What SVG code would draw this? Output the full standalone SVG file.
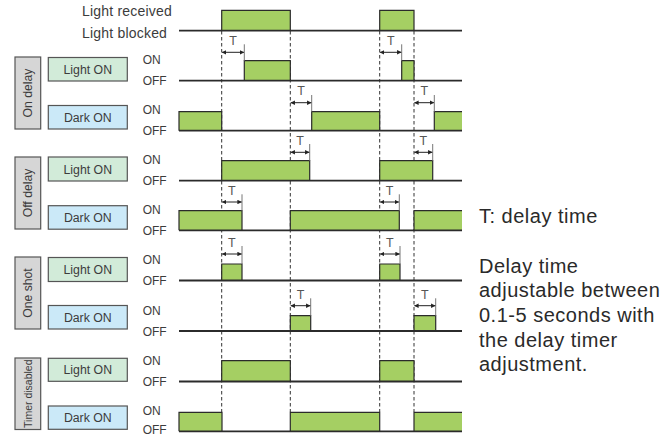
<svg xmlns="http://www.w3.org/2000/svg" width="672" height="437" viewBox="0 0 672 437">
<defs>
<marker id="ah" viewBox="0 0 6 6" refX="5.5" refY="3" markerWidth="4.5" markerHeight="4.5" orient="auto-start-reverse" markerUnits="userSpaceOnUse">
<path d="M0,0 L6,3 L0,6 Z" fill="#222"/>
</marker>
</defs>
<style>
text{font-family:"Liberation Sans",Arial,Helvetica,sans-serif;fill:#3c3c3c}
.hd{font-size:14px;letter-spacing:0.2px}
.onoff{font-size:12px}
.box{font-size:12.3px;text-anchor:middle}
.grp{font-size:12.2px;text-anchor:middle}
.t{font-size:12.5px;text-anchor:middle;fill:#555}
.note{font-size:20px;letter-spacing:0.5px;fill:#2a2a2a}
.gbox{fill:#d6d6d6;stroke:#555;stroke-width:1.2}
.lbox{fill:#d2ebd9;stroke:#555;stroke-width:1.2}
.dbox{fill:#cbe9f8;stroke:#555;stroke-width:1.2}
.base{stroke:#2b2b2b;stroke-width:1.8;fill:none}
.pulse{fill:#a5cf63;stroke:#2b2b2b;stroke-width:1.2}
.fillonly{fill:#a5cf63;stroke:none}
.edge{fill:none;stroke:#2b2b2b;stroke-width:1.2}
.dash{stroke:#333;stroke-width:1;stroke-dasharray:3.5 2.5;fill:none}
.tick{stroke:#777;stroke-width:1;fill:none}
.arr{stroke:#222;stroke-width:1;fill:none;marker-start:url(#ah);marker-end:url(#ah)}
</style>

<g id="connectors">
<line class="dash" x1="221.7" y1="31" x2="221.7" y2="412"/>
<line class="dash" x1="290.3" y1="31" x2="290.3" y2="412"/>
<line class="dash" x1="379.7" y1="31" x2="379.7" y2="412"/>
<line class="dash" x1="414" y1="31" x2="414" y2="412"/>
</g>

<g id="input-signal">
<text class="hd" x="82" y="15.7">Light received</text>
<text class="hd" x="82" y="38.3">Light blocked</text>
<path class="pulse" d="M221.7 30.7 V10.3 H290.3 V30.7"/>
<path class="pulse" d="M379.7 30.7 V10.3 H414 V30.7"/>
<line class="base" x1="179" y1="30.7" x2="462" y2="30.7"/>
</g>

<g id="group-on-delay">
<rect class="gbox" x="15" y="57" width="25.7" height="72"/>
<text class="grp" transform="translate(32.3,93) rotate(-90)">On delay</text>
</g>
<g id="on-delay-light-on">
<rect class="lbox" x="48.3" y="57.5" width="79" height="23.5"/>
<text class="box" x="87.8" y="73.8">Light ON</text>
<text class="onoff" x="142.7" y="64.2">ON</text>
<text class="onoff" x="142.7" y="85.2">OFF</text>
<path class="pulse" d="M244.3 80.7 V60.7 H290.3 V80.7"/>
<path class="pulse" d="M401.7 80.7 V60.7 H414 V80.7"/>
<line class="base" x1="179" y1="80.7" x2="462" y2="80.7"/>
</g>
<g id="on-delay-dark-on">
<rect class="dbox" x="48.3" y="105.5" width="79" height="23.5"/>
<text class="box" x="87.8" y="121.8">Dark ON</text>
<text class="onoff" x="142.7" y="114.2">ON</text>
<text class="onoff" x="142.7" y="135.2">OFF</text>
<path class="pulse" d="M179 130.7 V111.7 H221.7 V130.7"/>
<path class="pulse" d="M311.7 130.7 V111.7 H379.7 V130.7"/>
<rect class="fillonly" x="434.3" y="111.7" width="27.7" height="19"/>
<path class="edge" d="M434.3 130.7 V111.7 H462"/>
<line class="base" x1="179" y1="130.7" x2="462" y2="130.7"/>
</g>

<g id="group-off-delay">
<rect class="gbox" x="15" y="157" width="25.7" height="72"/>
<text class="grp" transform="translate(32.3,193) rotate(-90)">Off delay</text>
</g>
<g id="off-delay-light-on">
<rect class="lbox" x="48.3" y="157" width="79" height="24"/>
<text class="box" x="87.8" y="173.5">Light ON</text>
<text class="onoff" x="142.7" y="164.2">ON</text>
<text class="onoff" x="142.7" y="185.2">OFF</text>
<path class="pulse" d="M221.7 180.7 V160.7 H309.7 V180.7"/>
<path class="pulse" d="M379.7 180.7 V160.7 H432.7 V180.7"/>
<line class="base" x1="179" y1="180.7" x2="462" y2="180.7"/>
</g>
<g id="off-delay-dark-on">
<rect class="dbox" x="48.3" y="205.7" width="79" height="23.5"/>
<text class="box" x="87.8" y="222">Dark ON</text>
<text class="onoff" x="142.7" y="213.8">ON</text>
<text class="onoff" x="142.7" y="234.8">OFF</text>
<path class="pulse" d="M179 230.3 V210.7 H242 V230.3"/>
<path class="pulse" d="M290.3 230.3 V210.7 H399.3 V230.3"/>
<rect class="fillonly" x="414" y="210.7" width="48" height="19.6"/>
<path class="edge" d="M414 230.3 V210.7 H462"/>
<line class="base" x1="179" y1="230.3" x2="462" y2="230.3"/>
</g>

<g id="group-one-shot">
<rect class="gbox" x="15" y="257" width="25.7" height="72"/>
<text class="grp" transform="translate(32.3,293) rotate(-90)">One shot</text>
</g>
<g id="one-shot-light-on">
<rect class="lbox" x="48.3" y="257.5" width="79" height="24"/>
<text class="box" x="87.8" y="274">Light ON</text>
<text class="onoff" x="142.7" y="264">ON</text>
<text class="onoff" x="142.7" y="285">OFF</text>
<path class="pulse" d="M221.7 280.5 V264 H242 V280.5"/>
<path class="pulse" d="M379.7 280.5 V264 H400 V280.5"/>
<line class="base" x1="179" y1="280.5" x2="462" y2="280.5"/>
</g>
<g id="one-shot-dark-on">
<rect class="dbox" x="48.3" y="305.5" width="79" height="23.5"/>
<text class="box" x="87.8" y="321.8">Dark ON</text>
<text class="onoff" x="142.7" y="314.5">ON</text>
<text class="onoff" x="142.7" y="335.5">OFF</text>
<path class="pulse" d="M290.3 331 V315.7 H310.7 V331"/>
<path class="pulse" d="M414 331 V315.7 H435.7 V331"/>
<line class="base" x1="179" y1="331" x2="462" y2="331"/>
</g>

<g id="group-timer-disabled">
<rect class="gbox" x="15" y="358" width="25.7" height="71.5"/>
<text class="grp" style="font-size:10.5px" transform="translate(31.6,393.7) rotate(-90)">Timer disabled</text>
</g>
<g id="timer-disabled-light-on">
<rect class="lbox" x="48.3" y="358.3" width="79" height="23"/>
<text class="box" x="87.8" y="374.2">Light ON</text>
<text class="onoff" x="142.7" y="365">ON</text>
<text class="onoff" x="142.7" y="386">OFF</text>
<path class="pulse" d="M221.7 381.5 V360.7 H290.3 V381.5"/>
<path class="pulse" d="M379.7 381.5 V360.7 H414 V381.5"/>
<line class="base" x1="179" y1="381.5" x2="462" y2="381.5"/>
</g>
<g id="timer-disabled-dark-on">
<rect class="dbox" x="48.3" y="406" width="79" height="23.3"/>
<text class="box" x="87.8" y="422">Dark ON</text>
<text class="onoff" x="142.7" y="414.8">ON</text>
<text class="onoff" x="142.7" y="433.5">OFF</text>
<path class="pulse" d="M179 431.3 V412.3 H222 V431.3"/>
<path class="pulse" d="M290.3 431.3 V412.3 H379.7 V431.3"/>
<rect class="fillonly" x="414" y="412.3" width="48" height="19"/>
<path class="edge" d="M414 431.3 V412.3 H462"/>
<line class="base" x1="179" y1="431.3" x2="462" y2="431.3"/>
</g>

<g id="delay-markers">
<line class="tick" x1="244.3" y1="44.3" x2="244.3" y2="60.7"/>
<line class="arr" x1="222.2" y1="52.3" x2="243.8" y2="52.3"/>
<text class="t" x="233" y="44.7">T</text>
<line class="tick" x1="401.7" y1="44.3" x2="401.7" y2="60.7"/>
<line class="arr" x1="380.2" y1="52.3" x2="401.2" y2="52.3"/>
<text class="t" x="390.7" y="44.7">T</text>
<line class="tick" x1="311.7" y1="95" x2="311.7" y2="111.7"/>
<line class="arr" x1="290.8" y1="102.7" x2="311.2" y2="102.7"/>
<text class="t" x="301" y="95.3">T</text>
<line class="tick" x1="434.3" y1="95" x2="434.3" y2="111.7"/>
<line class="arr" x1="414.5" y1="102.7" x2="433.8" y2="102.7"/>
<text class="t" x="424.2" y="95.3">T</text>
<line class="tick" x1="309.7" y1="144" x2="309.7" y2="160.7"/>
<line class="arr" x1="290.8" y1="152.3" x2="309.2" y2="152.3"/>
<text class="t" x="300" y="144.7">T</text>
<line class="tick" x1="432.7" y1="144" x2="432.7" y2="160.7"/>
<line class="arr" x1="414.5" y1="152.3" x2="432.2" y2="152.3"/>
<text class="t" x="423.3" y="144.7">T</text>
<line class="tick" x1="242" y1="194.3" x2="242" y2="210.7"/>
<line class="arr" x1="222.2" y1="202" x2="241.5" y2="202"/>
<text class="t" x="231.8" y="194.7">T</text>
<line class="tick" x1="399.3" y1="194.3" x2="399.3" y2="210.7"/>
<line class="arr" x1="380.2" y1="202" x2="398.8" y2="202"/>
<text class="t" x="389.5" y="194.7">T</text>
<line class="tick" x1="242" y1="246" x2="242" y2="264"/>
<line class="arr" x1="222.2" y1="254" x2="241.5" y2="254"/>
<text class="t" x="231.8" y="246.5">T</text>
<line class="tick" x1="400" y1="246" x2="400" y2="264"/>
<line class="arr" x1="380.2" y1="254" x2="399.5" y2="254"/>
<text class="t" x="389.8" y="246.5">T</text>
<line class="tick" x1="310.7" y1="298.3" x2="310.7" y2="315.7"/>
<line class="arr" x1="290.8" y1="305.7" x2="310.2" y2="305.7"/>
<text class="t" x="300.5" y="298.5">T</text>
<line class="tick" x1="435.7" y1="298.3" x2="435.7" y2="315.7"/>
<line class="arr" x1="414.5" y1="305.7" x2="435.2" y2="305.7"/>
<text class="t" x="424.8" y="298.5">T</text>
</g>

<g id="notes">
<text class="note" x="479" y="223.3">T: delay time</text>
<text class="note" x="479" y="272.7">Delay time</text>
<text class="note" x="479" y="297.4">adjustable between</text>
<text class="note" x="479" y="322">0.1-5 seconds with</text>
<text class="note" x="479" y="346.7">the delay timer</text>
<text class="note" x="479" y="371.4">adjustment.</text>
</g>
</svg>
